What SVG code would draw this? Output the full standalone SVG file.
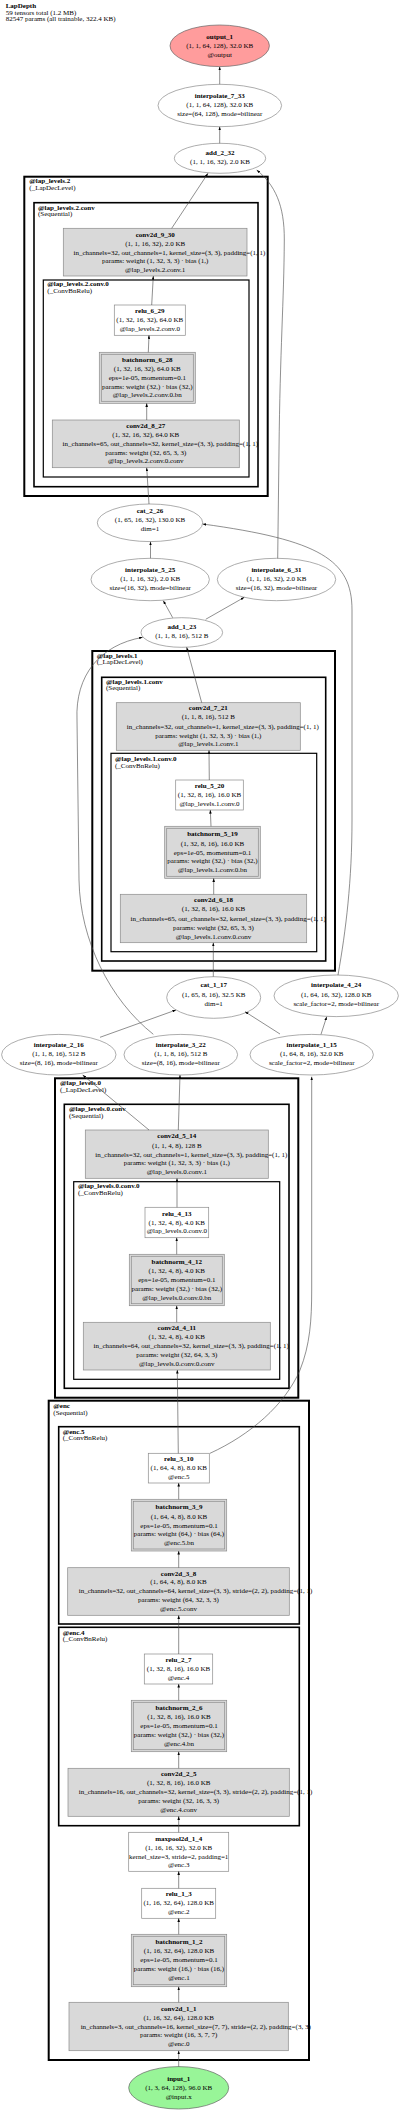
<svg xmlns="http://www.w3.org/2000/svg" width="400" height="2112" viewBox="0 0 400 2112">
<defs>
<marker id="ah" viewBox="0 0 7 5" refX="7" refY="2.5" markerWidth="3.6" markerHeight="2.6" markerUnits="userSpaceOnUse" orient="auto"><path d="M0,0 L7,2.5 L0,5 z" fill="#000"/></marker>
</defs>
<style>
.cl{fill:none;stroke:#000}
.c1{stroke-width:2}
.c2{stroke-width:1.6}
.c3{stroke-width:1.2}
.n{stroke:#8a8a8a;stroke-width:0.7}
.g{fill:#d9d9d9}
.w{fill:#fff}
text{font-family:"Liberation Serif","Times New Roman",serif;font-size:7px;fill:#000}
.m{text-anchor:middle}
.b{font-weight:bold}
.e{fill:none;stroke:#444;stroke-width:0.6;marker-end:url(#ah)}
</style>
<rect width="400" height="2112" fill="#fff"/>
<g id="title">
<text x="5.7" y="8.4" class="b">LapDepth</text>
<text x="5.7" y="15.1">59 tensors total (1.2 MB)</text>
<text x="5.7" y="21.4">82547 params (all trainable, 322.4 KB)</text>
</g>
<g id="clusters">
<g id="cl_lap2"><rect class="cl c1" x="24.3" y="176.7" width="243.4" height="319.3"/><text x="29.3" y="183.4" class="b">@lap_levels.2</text><text x="29.3" y="190.1">(_LapDecLevel)</text></g>
<g id="cl_lap2conv"><rect class="cl c2" x="34" y="202.7" width="224" height="284"/><text x="38" y="209.7" class="b">@lap_levels.2.conv</text><text x="38" y="216.1">(Sequential)</text></g>
<g id="cl_lap2conv0"><rect class="cl c3" x="43.3" y="280" width="205.7" height="197"/><text x="47.3" y="286.4" class="b">@lap_levels.2.conv.0</text><text x="47.3" y="293.1">(_ConvBnRelu)</text></g>
<g id="cl_lap1"><rect class="cl c1" x="92.3" y="651" width="242.7" height="319.7"/><text x="96.7" y="657.7" class="b">@lap_levels.1</text><text x="96.7" y="664.4">(_LapDecLevel)</text></g>
<g id="cl_lap1conv"><rect class="cl c2" x="101.7" y="677.3" width="224" height="283.7"/><text x="106" y="684.1" class="b">@lap_levels.1.conv</text><text x="106" y="690.4">(Sequential)</text></g>
<g id="cl_lap1conv0"><rect class="cl c3" x="111" y="753.3" width="205.7" height="198.4"/><text x="115" y="761.1" class="b">@lap_levels.1.conv.0</text><text x="115" y="767.7">(_ConvBnRelu)</text></g>
<g id="cl_lap0"><rect class="cl c1" x="55" y="1078.3" width="243.3" height="319.4"/><text x="60" y="1085.4" class="b">@lap_levels.0</text><text x="60" y="1091.7">(_LapDecLevel)</text></g>
<g id="cl_lap0conv"><rect class="cl c2" x="64.3" y="1104.3" width="224.7" height="284"/><text x="69" y="1111.4" class="b">@lap_levels.0.conv</text><text x="69" y="1117.7">(Sequential)</text></g>
<g id="cl_lap0conv0"><rect class="cl c3" x="73.7" y="1181.7" width="206" height="197.6"/><text x="78" y="1188.4" class="b">@lap_levels.0.conv.0</text><text x="78" y="1195.1">(_ConvBnRelu)</text></g>
<g id="cl_enc"><rect class="cl c1" x="48.7" y="1400.7" width="260.3" height="659.3"/><text x="53.3" y="1408.4" class="b">@enc</text><text x="53.3" y="1414.7">(Sequential)</text></g>
<g id="cl_enc5"><rect class="cl c2" x="58.7" y="1426.7" width="240.6" height="197.3"/><text x="62.7" y="1434.1" class="b">@enc.5</text><text x="62.7" y="1440.4">(_ConvBnRelu)</text></g>
<g id="cl_enc4"><rect class="cl c2" x="58.7" y="1627.3" width="240.6" height="198.4"/><text x="62.7" y="1634.7" class="b">@enc.4</text><text x="62.7" y="1641.1">(_ConvBnRelu)</text></g>
</g>
<g id="output_1"><ellipse cx="219.7" cy="45.8" rx="49.7" ry="20.8" fill="#ff9c9c" stroke="#666" stroke-width="0.7"/><text class="m b" x="219.7" y="39.1">output_1</text><text class="m" x="219.7" y="48.1">(1, 1, 64, 128), 32.0 KB</text><text class="m" x="219.7" y="56.7">@output</text></g>
<g id="interpolate_7_33"><ellipse class="n w" cx="219.8" cy="105.5" rx="61.8" ry="21.2"/><text class="m b" x="219.8" y="98.1">interpolate_7_33</text><text class="m" x="219.8" y="106.9">(1, 1, 64, 128), 32.0 KB</text><text class="m" x="219.8" y="115.8">size=(64, 128), mode=bilinear</text></g>
<g id="add_2_32"><ellipse class="n w" cx="220" cy="158.3" rx="45.7" ry="15"/><text class="m b" x="220" y="155.1">add_2_32</text><text class="m" x="220" y="163.9">(1, 1, 16, 32), 2.0 KB</text></g>
<g id="conv2d_9_30"><rect class="n g" x="63.3" y="228.3" width="183.7" height="47.7"/><text class="m b" x="155.2" y="236.7">conv2d_9_30</text><text class="m" x="155.2" y="245.7">(1, 1, 16, 32), 2.0 KB</text><text class="m" x="169.5" y="254.7">in_channels=32, out_channels=1, kernel_size=(3, 3), padding=(1, 1)</text><text class="m" x="155.2" y="263.4">params: weight (1, 32, 3, 3) · bias (1,)</text><text class="m" x="155.2" y="272.1">@lap_levels.2.conv.1</text></g>
<g id="relu_6_29"><rect class="n w" x="114.3" y="305" width="71" height="30.3"/><text class="m b" x="149.8" y="313.4">relu_6_29</text><text class="m" x="149.8" y="322.3">(1, 32, 16, 32), 64.0 KB</text><text class="m" x="149.8" y="331.1">@lap_levels.2.conv.0</text></g>
<g id="batchnorm_6_28"><rect class="n g" x="99.3" y="352.3" width="96" height="51"/><rect class="n" fill="none" x="101.3" y="354.3" width="92" height="47"/><text class="m b" x="147.3" y="361.7">batchnorm_6_28</text><text class="m" x="147.3" y="371.4">(1, 32, 16, 32), 64.0 KB</text><text class="m" x="147.3" y="380.1">eps=1e-05, momentum=0.1</text><text class="m" x="147.3" y="388.7">params: weight (32,) · bias (32,)</text><text class="m" x="147.3" y="397.4">@lap_levels.2.conv.0.bn</text></g>
<g id="conv2d_8_27"><rect class="n g" x="52.3" y="420" width="187" height="47.7"/><text class="m b" x="145.8" y="428.1">conv2d_8_27</text><text class="m" x="145.8" y="437.1">(1, 32, 16, 32), 64.0 KB</text><text class="m" x="160.3" y="446.1">in_channels=65, out_channels=32, kernel_size=(3, 3), padding=(1, 1)</text><text class="m" x="145.8" y="454.7">params: weight (32, 65, 3, 3)</text><text class="m" x="145.8" y="463.4">@lap_levels.2.conv.0.conv</text></g>
<g id="cat_2_26"><ellipse class="n w" cx="150" cy="522.8" rx="52.7" ry="18.8"/><text class="m b" x="150" y="513.4">cat_2_26</text><text class="m" x="150" y="522.4">(1, 65, 16, 32), 130.0 KB</text><text class="m" x="150" y="531.4">dim=1</text></g>
<g id="interpolate_5_25"><ellipse class="n w" cx="150.2" cy="579.5" rx="59.2" ry="21.2"/><text class="m b" x="150.2" y="572.4">interpolate_5_25</text><text class="m" x="150.2" y="581.1">(1, 1, 16, 32), 2.0 KB</text><text class="m" x="150.2" y="590.2">size=(16, 32), mode=bilinear</text></g>
<g id="interpolate_6_31"><ellipse class="n w" cx="276.5" cy="579.5" rx="59.2" ry="21.2"/><text class="m b" x="276.5" y="572.4">interpolate_6_31</text><text class="m" x="276.5" y="581.1">(1, 1, 16, 32), 2.0 KB</text><text class="m" x="276.5" y="590.2">size=(16, 32), mode=bilinear</text></g>
<g id="add_1_23"><ellipse class="n w" cx="181.8" cy="632.5" rx="40.8" ry="14.8"/><text class="m b" x="181.8" y="629.4">add_1_23</text><text class="m" x="181.8" y="638.4">(1, 1, 8, 16), 512 B</text></g>
<g id="conv2d_7_21"><rect class="n g" x="116.3" y="702.7" width="184" height="47.6"/><text class="m b" x="208.3" y="710.4">conv2d_7_21</text><text class="m" x="208.3" y="719.4">(1, 1, 8, 16), 512 B</text><text class="m" x="222.8" y="728.7">in_channels=32, out_channels=1, kernel_size=(3, 3), padding=(1, 1)</text><text class="m" x="208.3" y="737.7">params: weight (1, 32, 3, 3) · bias (1,)</text><text class="m" x="208.3" y="746.4">@lap_levels.1.conv.1</text></g>
<g id="relu_5_20"><rect class="n w" x="175.7" y="780" width="67.6" height="30"/><text class="m b" x="209.5" y="787.7">relu_5_20</text><text class="m" x="209.5" y="797.1">(1, 32, 8, 16), 16.0 KB</text><text class="m" x="209.5" y="806.1">@lap_levels.1.conv.0</text></g>
<g id="batchnorm_5_19"><rect class="n g" x="164.7" y="826.3" width="95.6" height="52"/><rect class="n" fill="none" x="166.7" y="828.3" width="91.6" height="48"/><text class="m b" x="212.5" y="836.4">batchnorm_5_19</text><text class="m" x="212.5" y="845.7">(1, 32, 8, 16), 16.0 KB</text><text class="m" x="212.5" y="854.7">eps=1e-05, momentum=0.1</text><text class="m" x="212.5" y="863.4">params: weight (32,) · bias (32,)</text><text class="m" x="212.5" y="872.4">@lap_levels.1.conv.0.bn</text></g>
<g id="conv2d_6_18"><rect class="n g" x="120.3" y="894.3" width="186.4" height="48.4"/><text class="m b" x="213.5" y="902.4">conv2d_6_18</text><text class="m" x="213.5" y="911.4">(1, 32, 8, 16), 16.0 KB</text><text class="m" x="228.2" y="920.7">in_channels=65, out_channels=32, kernel_size=(3, 3), padding=(1, 1)</text><text class="m" x="213.5" y="929.7">params: weight (32, 65, 3, 3)</text><text class="m" x="213.5" y="938.7">@lap_levels.1.conv.0.conv</text></g>
<g id="cat_1_17"><ellipse class="n w" cx="213.7" cy="997.5" rx="47" ry="20.8"/><text class="m b" x="213.7" y="987.4">cat_1_17</text><text class="m" x="213.7" y="996.7">(1, 65, 8, 16), 32.5 KB</text><text class="m" x="213.7" y="1005.7">dim=1</text></g>
<g id="interpolate_4_24"><ellipse class="n w" cx="336.2" cy="995.8" rx="62.2" ry="20.8"/><text class="m b" x="336.2" y="987.4">interpolate_4_24</text><text class="m" x="336.2" y="996.7">(1, 64, 16, 32), 128.0 KB</text><text class="m" x="336.2" y="1005.7">scale_factor=2, mode=bilinear</text></g>
<g id="interpolate_2_16"><ellipse class="n w" cx="58.8" cy="1054.7" rx="57.2" ry="20.3"/><text class="m b" x="58.8" y="1046.7">interpolate_2_16</text><text class="m" x="58.8" y="1056.4">(1, 1, 8, 16), 512 B</text><text class="m" x="58.8" y="1065.1">size=(8, 16), mode=bilinear</text></g>
<g id="interpolate_3_22"><ellipse class="n w" cx="180.8" cy="1054.7" rx="56.8" ry="20.3"/><text class="m b" x="180.8" y="1046.7">interpolate_3_22</text><text class="m" x="180.8" y="1056.4">(1, 1, 8, 16), 512 B</text><text class="m" x="180.8" y="1065.1">size=(8, 16), mode=bilinear</text></g>
<g id="interpolate_1_15"><ellipse class="n w" cx="311.7" cy="1054.7" rx="61.7" ry="20.3"/><text class="m b" x="311.7" y="1046.7">interpolate_1_15</text><text class="m" x="311.7" y="1056.4">(1, 64, 8, 16), 32.0 KB</text><text class="m" x="311.7" y="1065.1">scale_factor=2, mode=bilinear</text></g>
<g id="conv2d_5_14"><rect class="n g" x="85.3" y="1130" width="183" height="48.3"/><text class="m b" x="176.8" y="1138.4">conv2d_5_14</text><text class="m" x="176.8" y="1147.7">(1, 1, 4, 8), 128 B</text><text class="m" x="191.3" y="1156.7">in_channels=32, out_channels=1, kernel_size=(3, 3), padding=(1, 1)</text><text class="m" x="176.8" y="1165.4">params: weight (1, 32, 3, 3) · bias (1,)</text><text class="m" x="176.8" y="1174.1">@lap_levels.0.conv.1</text></g>
<g id="relu_4_13"><rect class="n w" x="145" y="1207.3" width="63.7" height="30.4"/><text class="m b" x="176.8" y="1215.7">relu_4_13</text><text class="m" x="176.8" y="1225.1">(1, 32, 4, 8), 4.0 KB</text><text class="m" x="176.8" y="1233.4">@lap_levels.0.conv.0</text></g>
<g id="batchnorm_4_12"><rect class="n g" x="129.3" y="1254.3" width="95" height="51.4"/><rect class="n" fill="none" x="131.3" y="1256.3" width="91" height="47.4"/><text class="m b" x="176.8" y="1264.1">batchnorm_4_12</text><text class="m" x="176.8" y="1273.1">(1, 32, 4, 8), 4.0 KB</text><text class="m" x="176.8" y="1282.1">eps=1e-05, momentum=0.1</text><text class="m" x="176.8" y="1290.7">params: weight (32,) · bias (32,)</text><text class="m" x="176.8" y="1299.7">@lap_levels.0.conv.0.bn</text></g>
<g id="conv2d_4_11"><rect class="n g" x="83.3" y="1322.3" width="187" height="47.7"/><text class="m b" x="176.8" y="1330.1">conv2d_4_11</text><text class="m" x="176.8" y="1339.1">(1, 32, 4, 8), 4.0 KB</text><text class="m" x="191.2" y="1348.1">in_channels=64, out_channels=32, kernel_size=(3, 3), padding=(1, 1)</text><text class="m" x="176.8" y="1356.7">params: weight (32, 64, 3, 3)</text><text class="m" x="176.8" y="1365.7">@lap_levels.0.conv.0.conv</text></g>
<g id="relu_3_10"><rect class="n w" x="148.3" y="1453.3" width="61" height="29.7"/><text class="m b" x="178.8" y="1461.1">relu_3_10</text><text class="m" x="178.8" y="1470.1">(1, 64, 4, 8), 8.0 KB</text><text class="m" x="178.8" y="1479.1">@enc.5</text></g>
<g id="batchnorm_3_9"><rect class="n g" x="131.3" y="1499.3" width="95.4" height="51.7"/><rect class="n" fill="none" x="133.3" y="1501.3" width="91.4" height="47.7"/><text class="m b" x="179" y="1509.4">batchnorm_3_9</text><text class="m" x="179" y="1518.7">(1, 64, 4, 8), 8.0 KB</text><text class="m" x="179" y="1527.7">eps=1e-05, momentum=0.1</text><text class="m" x="179" y="1536.4">params: weight (64,) · bias (64,)</text><text class="m" x="179" y="1545.1">@enc.5.bn</text></g>
<g id="conv2d_3_8"><rect class="n g" x="67.7" y="1567.7" width="221.6" height="47.6"/><text class="m b" x="178.5" y="1575.7">conv2d_3_8</text><text class="m" x="178.5" y="1584.4">(1, 64, 4, 8), 8.0 KB</text><text class="m" x="195.5" y="1593.4">in_channels=32, out_channels=64, kernel_size=(3, 3), stride=(2, 2), padding=(1, 1)</text><text class="m" x="178.5" y="1602.1">params: weight (64, 32, 3, 3)</text><text class="m" x="178.5" y="1610.7">@enc.5.conv</text></g>
<g id="relu_2_7"><rect class="n w" x="144.3" y="1654" width="68.4" height="30"/><text class="m b" x="178.5" y="1661.7">relu_2_7</text><text class="m" x="178.5" y="1670.7">(1, 32, 8, 16), 16.0 KB</text><text class="m" x="178.5" y="1679.7">@enc.4</text></g>
<g id="batchnorm_2_6"><rect class="n g" x="131.3" y="1700.3" width="95.4" height="51.4"/><rect class="n" fill="none" x="133.3" y="1702.3" width="91.4" height="47.4"/><text class="m b" x="179" y="1710.1">batchnorm_2_6</text><text class="m" x="179" y="1719.4">(1, 32, 8, 16), 16.0 KB</text><text class="m" x="179" y="1728.4">eps=1e-05, momentum=0.1</text><text class="m" x="179" y="1737.1">params: weight (32,) · bias (32,)</text><text class="m" x="179" y="1745.7">@enc.4.bn</text></g>
<g id="conv2d_2_5"><rect class="n g" x="68" y="1768.3" width="221.3" height="48"/><text class="m b" x="178.7" y="1776.4">conv2d_2_5</text><text class="m" x="178.7" y="1785.4">(1, 32, 8, 16), 16.0 KB</text><text class="m" x="195.5" y="1794.4">in_channels=16, out_channels=32, kernel_size=(3, 3), stride=(2, 2), padding=(1, 1)</text><text class="m" x="178.7" y="1803.4">params: weight (32, 16, 3, 3)</text><text class="m" x="178.7" y="1812.4">@enc.4.conv</text></g>
<g id="maxpool2d_1_4"><rect class="n w" x="128.7" y="1832.3" width="100" height="39"/><text class="m b" x="178.7" y="1840.7">maxpool2d_1_4</text><text class="m" x="178.7" y="1849.7">(1, 16, 16, 32), 32.0 KB</text><text class="m" x="178.7" y="1858.7">kernel_size=3, stride=2, padding=1</text><text class="m" x="178.7" y="1867.4">@enc.3</text></g>
<g id="relu_1_3"><rect class="n w" x="141.7" y="1888.3" width="74" height="30"/><text class="m b" x="178.7" y="1896.4">relu_1_3</text><text class="m" x="178.7" y="1905.4">(1, 16, 32, 64), 128.0 KB</text><text class="m" x="178.7" y="1914.4">@enc.2</text></g>
<g id="batchnorm_1_2"><rect class="n g" x="131.3" y="1934.3" width="95.4" height="52.4"/><rect class="n" fill="none" x="133.3" y="1936.3" width="91.4" height="48.4"/><text class="m b" x="179" y="1944.1">batchnorm_1_2</text><text class="m" x="179" y="1953.4">(1, 16, 32, 64), 128.0 KB</text><text class="m" x="179" y="1962.4">eps=1e-05, momentum=0.1</text><text class="m" x="179" y="1971.1">params: weight (16,) · bias (16,)</text><text class="m" x="179" y="1979.7">@enc.1</text></g>
<g id="conv2d_1_1"><rect class="n g" x="69" y="2002.3" width="219.3" height="48.4"/><text class="m b" x="178.7" y="2010.7">conv2d_1_1</text><text class="m" x="178.7" y="2019.7">(1, 16, 32, 64), 128.0 KB</text><text class="m" x="195.7" y="2028.7">in_channels=3, out_channels=16, kernel_size=(7, 7), stride=(2, 2), padding=(3, 3)</text><text class="m" x="178.7" y="2037.4">params: weight (16, 3, 7, 7)</text><text class="m" x="178.7" y="2046.1">@enc.0</text></g>
<g id="input_1"><ellipse cx="178.7" cy="2087.8" rx="50" ry="21.2" fill="#98f598" stroke="#666" stroke-width="0.7"/><text class="m b" x="178.7" y="2081.4">input_1</text><text class="m" x="178.7" y="2090.4">(1, 3, 64, 128), 96.0 KB</text><text class="m" x="178.7" y="2099.4">@input.x</text></g>
<g id="connectors">
<path class="e" d="M219.7,84.3 L219.7,66.7"/>
<path class="e" d="M219.7,143.3 L219.7,126.7"/>
<path class="e" d="M171.7,228.3 L208,173.3"/>
<path class="e" d="M277.7,558.3 L279,450 C280,350 284,300 284.3,240 C284.5,205 275,185 256.7,170"/>
<path class="e" d="M151.7,305 L153.3,276"/>
<path class="e" d="M148.3,352.3 L149,335.3"/>
<path class="e" d="M146.7,420 L146.7,403.3"/>
<path class="e" d="M149,504 L146.7,467.7"/>
<path class="e" d="M150.5,558.3 L150.5,541.7"/>
<path class="e" d="M338,975 C346,930 352,880 352,820 L352,610 C352,560 320,540 202.7,524"/>
<path class="e" d="M172.7,617.7 L163.3,600.7"/>
<path class="e" d="M205.7,619.3 L244.3,597.3"/>
<path class="e" d="M153.3,1034.3 C110,1000 80,940 79,880 L77,720 C75,675 100,645 142.7,637.3"/>
<path class="e" d="M201.7,702.7 L186.7,647.3"/>
<path class="e" d="M209.3,780 L209,750.3"/>
<path class="e" d="M211,826.3 L210.3,810"/>
<path class="e" d="M213.7,894.3 L213.7,878.3"/>
<path class="e" d="M213.3,976.7 L213.3,942.7"/>
<path class="e" d="M100,1037.3 L176,1010"/>
<path class="e" d="M280,1034 L245,1011.7"/>
<path class="e" d="M321,1034.3 L326.7,1016.7"/>
<path class="e" d="M149,1130 L82.7,1075"/>
<path class="e" d="M178.3,1130 L180,1075"/>
<path class="e" d="M210,1453.3 C250,1435 285,1405 300,1370 C310,1345 311.7,1320 311.7,1290 L311.7,1076.7"/>
<path class="e" d="M177,1207.3 L177,1178.3"/>
<path class="e" d="M176.7,1254.3 L176.7,1237.7"/>
<path class="e" d="M176.7,1322.3 L176.7,1305.7"/>
<path class="e" d="M178.3,1453.3 L177.3,1370"/>
<path class="e" d="M178.7,1499.3 L178.7,1483"/>
<path class="e" d="M178.7,1567.7 L178.7,1551"/>
<path class="e" d="M178.7,1654 L178.7,1615.3"/>
<path class="e" d="M178.7,1700.3 L178.7,1684"/>
<path class="e" d="M178.7,1768.3 L178.7,1751.7"/>
<path class="e" d="M178.7,1832.3 L178.7,1816.3"/>
<path class="e" d="M178.7,1888.3 L178.7,1871.3"/>
<path class="e" d="M178.7,1934.3 L178.7,1918.3"/>
<path class="e" d="M178.7,2002.3 L178.7,1986.7"/>
<path class="e" d="M178.7,2066.7 L178.7,2050.7"/>
</g>
</svg>
